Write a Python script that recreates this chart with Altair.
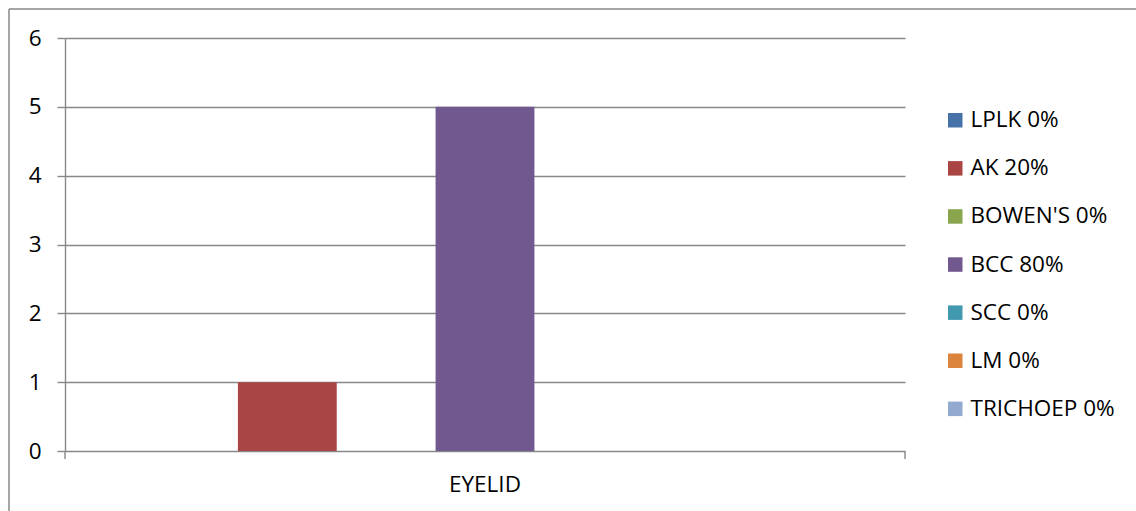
import altair as alt
import pandas as pd

# Lesion counts by site, one bar per diagnosis
site = ["EYELID"]
series = ["LPLK 0%", "AK 20%", "BOWEN'S 0%", "BCC 80%", "SCC 0%", "LM 0%", "TRICHOEP 0%"]
counts = [0, 1, 0, 5, 0, 0, 0]
colors = ["#4672A8", "#A94644", "#89A54E", "#71588F", "#4198AF", "#DB843D", "#93A9CF"]
y_ticks = [0, 1, 2, 3, 4, 5, 6]

FONT = "Open Sans"
FS = 22.5
GRAY = "#888888"
W, H = 840, 413

df = pd.DataFrame({
    "site": site * len(series),
    "series": series,
    "count": counts,
})

bars = alt.Chart(df).mark_bar().encode(
    x=alt.X(
        "site:N",
        scale=alt.Scale(paddingInner=0, paddingOuter=0.107),
        axis=alt.Axis(
            title=None, labelAngle=0, ticks=False, domain=False,
            labelFont=FONT, labelFontSize=FS, labelColor="#000000",
            labelPadding=22,
        ),
    ),
    xOffset=alt.XOffset("series:N", sort=series,
                        scale=alt.Scale(paddingInner=0, paddingOuter=0)),
    y=alt.Y(
        "count:Q",
        scale=alt.Scale(domain=[0, 6], nice=False),
        axis=alt.Axis(
            title=None, values=y_ticks, format="d",
            grid=True, gridColor=GRAY, gridWidth=1.4,
            domainColor=GRAY, domainWidth=1.4,
            tickColor=GRAY, tickWidth=1.4, tickSize=8,
            labelFont=FONT, labelFontSize=FS, labelColor="#000000",
            labelPadding=16,
        ),
    ),
    color=alt.Color(
        "series:N", sort=series,
        scale=alt.Scale(domain=series, range=colors),
        legend=alt.Legend(
            title=None, orient="none", legendX=879, legendY=71,
            symbolType="square", symbolSize=210, symbolStrokeWidth=0,
            labelFont=FONT, labelFontSize=FS, labelColor="#000000",
            labelOffset=4, rowPadding=25.1, padding=0,
        ),
    ),
)

# category boundary ticks below the baseline
cat_ticks = alt.Chart(pd.DataFrame({"k": [0, 1]})).mark_rule(
    color=GRAY, strokeWidth=1.4
).encode(
    x=alt.X("k:Q", scale=alt.Scale(domain=[0, 1], range=[0, W]), axis=None),
    y=alt.value(H),
    y2=alt.value(H + 8),
)

# outer chart frame (top and left edges)
frame_top = alt.Chart(pd.DataFrame({"k": [0]})).mark_rule(
    color=GRAY, strokeWidth=1.5
).encode(x=alt.value(-56), x2=alt.value(1075), y=alt.value(-29))
frame_left = alt.Chart(pd.DataFrame({"k": [0]})).mark_rule(
    color=GRAY, strokeWidth=1.5
).encode(x=alt.value(-56), y=alt.value(-29), y2=alt.value(480))

chart = alt.layer(bars, cat_ticks, frame_top, frame_left).resolve_scale(
    x="independent"
).properties(
    width=W, height=H,
    autosize=alt.AutoSizeParams(type="none"),
    padding={"left": 65, "top": 38, "right": 231, "bottom": 60},
    background="#ffffff",
).configure_view(stroke=None)

chart.save("out.html", embed_options={"renderer": "svg", "actions": False})
